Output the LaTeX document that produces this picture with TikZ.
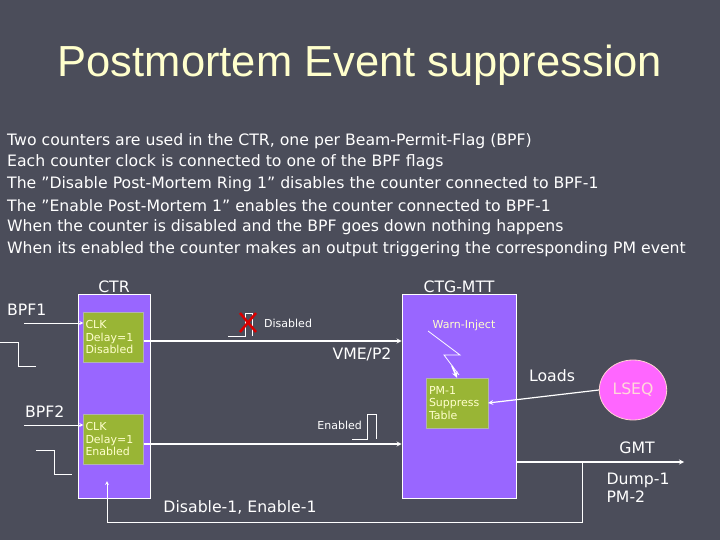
\documentclass[tikz,border=0pt]{standalone}
\usepackage{fontspec}
\setmainfont{DejaVu Sans}
\newfontfamily\titlefont{Liberation Sans}
\usetikzlibrary{positioning,shapes.geometric}
\definecolor{bggray}{HTML}{4B4D5A}
\definecolor{titleyel}{HTML}{FFFFCC}
\definecolor{boxviolet}{HTML}{9966FF}
\definecolor{boxgreen}{HTML}{99B535}
\definecolor{lseqpink}{HTML}{FF66FF}
\newcommand{\dq}{\symbol{34}}
\tikzset{
  unitbox/.style={draw=white,fill=boxviolet,line width=0.8pt,minimum width=#1,minimum height=204pt,inner sep=0pt},
  clkbox/.style={fill=boxgreen,draw=gray!60,text=titleyel,font=\fontsize{11}{12.5}\selectfont,align=left,inner sep=2pt,minimum width=60pt,minimum height=50pt,text width=56pt},
  lbl/.style={text=white,font=\fontsize{15.7}{18}\selectfont,inner sep=0pt},
  small/.style={text=white,font=\fontsize{11}{12}\selectfont,inner sep=0pt},
  sig/.style={white,line width=0.8pt},
  link/.style={white,line width=1.2pt,-stealth}
}
\begin{document}
\begin{tikzpicture}[x=1pt,y=-1pt]
\fill[bggray] (0,0) rectangle (720,540);
\useasboundingbox (0,0) rectangle (720,540);
% title and text
\node[text=titleyel,font=\titlefont\fontsize{43.5}{47}\selectfont] (title) at (360,65) {Postmortem Event suppression};
\foreach \t [count=\i] in {Two counters are used in the CTR{,} one per Beam-Permit-Flag (BPF),
  Each counter clock is connected to one of the BPF flags,
  The \dq Disable Post-Mortem Ring 1\dq\ disables the counter connected to BPF-1,
  The \dq Enable Post-Mortem 1\dq\ enables the counter connected to BPF-1,
  When the counter is disabled and the BPF goes down nothing happens,
  When its enabled the counter makes an output triggering the corresponding PM event}
  \node[lbl,anchor=west,font=\fontsize{15.7}{18}\selectfont] (line\i) at (7,{141+21.6*(\i-1)}) {\t};
% CTR
\node[unitbox=72pt] (ctr) at (114,396) {};
\node[lbl,anchor=south] (ctrlbl) at (ctr.north) [yshift=1pt] {CTR};
\node[clkbox] (clk1) at (113.5,337) {CLK\\Delay=1\\Disabled};
\node[clkbox] (clk2) at (113.5,439) {CLK\\Delay=1\\Enabled};
% CTG-MTT
\node[unitbox=114pt] (ctg) at (459,396) {};
\node[lbl,anchor=south] (ctglbl) at (ctg.north) [yshift=1pt] {CTG-MTT};
\node[clkbox,minimum width=62pt,text width=56pt] (pm) at (457,403) {PM-1\\Suppress\\Table};
\node[small,text=titleyel] (warn) at (464,325) {Warn-Inject};
\draw[white,line width=0.8pt] (428,331) -- (460,355) -- (444,355) -- (459,375);
\draw[white,line width=1.6pt,-stealth] (452,366) -- (pm.north);
% LSEQ
\node[ellipse,fill=lseqpink,draw=pink!70!white,line width=0.8pt,minimum width=66pt,minimum height=60pt,text=pink!60!white,font=\fontsize{15.7}{18}\selectfont] (lseq) at (633,390) {LSEQ};
\node[lbl] (loads) at (552,376) {Loads};
\draw[link] (lseq.west) -- (pm.east);
% inputs
\node[lbl,anchor=west] (bpf1) at (7,310) {BPF1};
\node[lbl,anchor=west] (bpf2) at (25,412) {BPF2};
\coordinate (in1) at (24,323);
\coordinate (in2) at (24,425);
\draw[link,line width=0.8pt] (in1) -- (clk1.west |- in1);
\draw[link,line width=0.8pt] (in2) -- (clk2.west |- in2);
\draw[sig] (0,342) -- (18,342) -- (18,366) -- (36,366);
\draw[sig] (36,450) -- (54,450) -- (54,474) -- (72,474);
% counter outputs
\draw[link] (clk1.east |- 0,341) -- (ctg.west |- 0,341);
\draw[link] (clk2.east |- 0,444) -- (ctg.west |- 0,444);
\node[lbl] (vme) at (362,354) {VME/P2};
\node[small,anchor=west] (dis) at (264,323) {Disabled};
\draw[sig] (228,336) -- (245,336) -- (245,313) -- (252,313) -- (252,336);
\draw[red!85!black,line width=2.5pt] (240,313) -- (256,332) (256,313) -- (240,332);
\node[small,anchor=east] (ena) at (362,425) {Enabled};
\draw[sig] (352,439) -- (367,439) -- (367,414) -- (376,414) -- (376,439);
% GMT and feedback
\coordinate (gmtend) at (684,462);
\draw[link] (ctg.east |- gmtend) -- (gmtend);
\node[lbl] (gmt) at (637,448) {GMT};
\node[lbl,align=left] (dump) at (638,488) {Dump-1\\PM-2};
\coordinate (fb) at (582,462);
\draw[link,line width=0.8pt] (fb) -- (582,522) -- (107,522) -- (107,481);
\node[lbl] (dislbl) at (240,507) {Disable-1, Enable-1};
\end{tikzpicture}
\end{document}
